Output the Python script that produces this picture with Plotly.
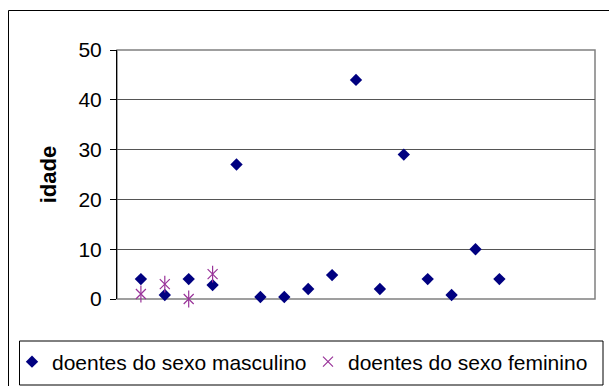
import plotly.graph_objects as go

# Data
male_x = list(range(1, 17))
male_y = [4, 0.8, 4, 2.8, 27, 0.4, 0.4, 2, 4.8, 44, 2, 29, 4, 0.8, 10, 4]
female_x = [1, 2, 3, 4]
female_y = [1, 3, 0, 5]
y_ticks = [0, 10, 20, 30, 40, 50]

male_name = "doentes do sexo masculino"
female_name = "doentes do sexo feminino"
y_title = "idade"

FONT = "Liberation Sans, Arial, sans-serif"
NAVY = "#000080"
PURPLE = "#993399"

fig = go.Figure()
fig.add_trace(go.Scatter(
    x=male_x, y=male_y, mode="markers", name=male_name,
    marker=dict(symbol="diamond", size=9.5, color=NAVY),
    cliponaxis=False,
))
fig.add_trace(go.Scatter(
    x=female_x, y=female_y, mode="markers", name=female_name,
    legendgroup="f",
    marker=dict(symbol="x-thin-open", size=10, color=PURPLE,
                line=dict(color=PURPLE, width=1.2)),
    cliponaxis=False,
))
fig.add_trace(go.Scatter(
    x=female_x, y=female_y, mode="markers", name=female_name,
    legendgroup="f", showlegend=False,
    marker=dict(symbol="line-ns-open", size=12, color=PURPLE,
                line=dict(color=PURPLE, width=1.2)),
    cliponaxis=False,
))

W, H = 610, 386
L, R, T, B = 117, 15, 50, 87
pw = W - L - R
ph = H - T - B

def px2x(px):
    return (px - L) / pw

def py2y(py):
    return (H - B - py) / ph

shapes = [
    # outer chart border: top and left edges (the rest is off the picture)
    dict(type="line", xref="paper", yref="paper",
         x0=px2x(8.5), x1=px2x(609), y0=py2y(10.5), y1=py2y(10.5),
         line=dict(color="black", width=1), layer="below"),
    dict(type="line", xref="paper", yref="paper",
         x0=px2x(8.5), x1=px2x(8.5), y0=py2y(10.5), y1=py2y(386),
         line=dict(color="black", width=1), layer="below"),
    # plot area border
    dict(type="rect", xref="paper", yref="paper",
         x0=0, x1=1, y0=0, y1=1,
         line=dict(color="#808080", width=1.5), layer="below"),
    # legend box
    dict(type="rect", xref="paper", yref="paper",
         x0=px2x(19.5), x1=px2x(603), y0=py2y(341), y1=py2y(385),
         line=dict(color="black", width=1), layer="below"),
]

fig.update_layout(
    width=W, height=H,
    margin=dict(l=L, r=R, t=T, b=B, pad=0, autoexpand=False),
    paper_bgcolor="white", plot_bgcolor="white",
    font=dict(family=FONT, size=20, color="black"),
    showlegend=True,
    legend=dict(
        orientation="h", x=px2x(12), xanchor="left",
        y=py2y(362), yanchor="middle",
        font=dict(family=FONT, size=21, color="black"),
        bgcolor="rgba(0,0,0,0)", borderwidth=0,
        itemwidth=30, tracegroupgap=0, entrywidth=251,
    ),
    shapes=shapes,
    xaxis=dict(range=[0, 20], showgrid=False, zeroline=False,
               showticklabels=False, ticks="", showline=False),
    yaxis=dict(range=[0, 50], tickvals=y_ticks, ticktext=[str(v) for v in y_ticks],
               showgrid=True, gridcolor="#555555", gridwidth=1,
               zeroline=False, showline=True, linecolor="black", linewidth=1,
               ticks="outside", ticklen=6, tickcolor="black", tickwidth=1,
               ticklabelstandoff=4,
               tickfont=dict(family=FONT, size=21, color="black"),
               title=dict(text="<b>" + y_title + "</b>", standoff=15,
                          font=dict(family=FONT, size=22, color="black"))),
)

fig.write_html("out.html", config={"displayModeBar": False},
               post_script="document.body.style.margin='0';")
